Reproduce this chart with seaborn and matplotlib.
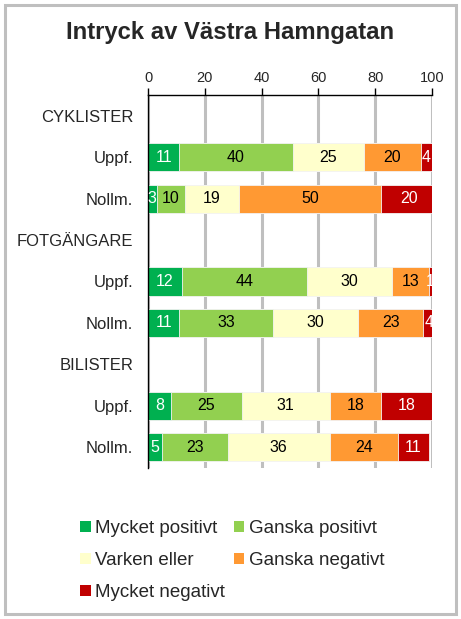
import matplotlib
matplotlib.use("Agg")
import matplotlib.pyplot as plt
import seaborn as sns
import pandas as pd
import numpy as np
from matplotlib.patches import Rectangle, Patch

# ---- data ----
row_keys = ["CYK", "CYK_U", "CYK_N", "FOT", "FOT_U", "FOT_N", "BIL", "BIL_U", "BIL_N"]
row_labels = ["CYKLISTER", "Uppf.", "Nollm.", "FOTGÄNGARE", "Uppf.", "Nollm.",
              "BILISTER", "Uppf.", "Nollm."]
bar_rows = ["CYK_U", "CYK_N", "FOT_U", "FOT_N", "BIL_U", "BIL_N"]
series = ["Mycket positivt", "Ganska positivt", "Varken eller",
          "Ganska negativt", "Mycket negativt"]
mycket_positivt = [11, 3, 12, 11, 8, 5]
ganska_positivt = [40, 10, 44, 33, 25, 23]
varken_eller = [25, 19, 30, 30, 31, 36]
ganska_negativt = [20, 50, 13, 23, 18, 24]
mycket_negativt = [4, 20, 1, 4, 18, 11]
x_ticks = [0, 20, 40, 60, 80, 100]

colors = ["#00B050", "#92D050", "#FFFFCC", "#FF9933", "#C00000"]
text_colors = ["white", "black", "black", "black", "white"]

values = np.array([mycket_positivt, ganska_positivt, varken_eller,
                   ganska_negativt, mycket_negativt], dtype=float)
cum = np.cumsum(values, axis=0)

sns.set_theme(style="white")
plt.rcParams["font.family"] = ["Liberation Sans", "DejaVu Sans"]

fig = plt.figure(figsize=(4.61, 6.19), dpi=100)
ax = fig.add_axes([148 / 461, 1 - 468 / 619, 284 / 461, 373 / 619])

# gridlines behind bars
for t in x_ticks:
    ax.axvline(t, color="#BFBFBF", lw=2.2, zorder=0)

# stacked bars by overlaying cumulative totals (largest first)
for i in range(len(series) - 1, -1, -1):
    df = pd.DataFrame({"row": bar_rows, "value": cum[i]})
    sns.barplot(data=df, x="value", y="row", order=row_keys, orient="h",
                color=colors[i], saturation=1, width=0.68,
                edgecolor="#F4F4F4", linewidth=0.6, ax=ax, zorder=2)

# segment labels
ypos = {k: j for j, k in enumerate(row_keys)}
for i in range(len(series)):
    for r, row in enumerate(bar_rows):
        v = values[i, r]
        center = cum[i, r] - v / 2
        ax.text(center, ypos[row], f"{int(v)}", ha="center", va="center",
                fontsize=11.5, color=text_colors[i], zorder=3)

ax.set_xlim(0, 100)
ax.set_ylim(len(row_keys) - 0.5, -0.5)
ax.xaxis.tick_top()
ax.set_xticks(x_ticks)
ax.set_xticklabels([str(t) for t in x_ticks], fontsize=10.5)
ax.tick_params(axis="x", direction="out", length=5, width=1, color="black",
               pad=2, top=True, bottom=False)
ax.set_yticks(range(len(row_keys)))
ax.set_yticklabels(row_labels, fontsize=12)
ax.tick_params(axis="y", length=0, pad=10.8)
ax.set_xlabel("")
ax.set_ylabel("")
for s in ["right", "bottom"]:
    ax.spines[s].set_visible(False)
for s in ["top", "left"]:
    ax.spines[s].set_visible(True)
    ax.spines[s].set_color("black")
    ax.spines[s].set_linewidth(1)

fig.text(0.5, 1 - 32 / 619, "Intryck av Västra Hamngatan", ha="center",
         va="center", fontsize=17.2, fontweight="bold")

# legend: column-first order
order = [0, 2, 4, 1, 3]
handles = [Patch(facecolor=colors[i], edgecolor="none") for i in order]
labels = [series[i] for i in order]
fig.legend(handles, labels, ncol=2, loc="upper left",
           bbox_to_anchor=(80 / 461, 1 - 520 / 619), frameon=False,
           fontsize=13.5, handlelength=0.57, handleheight=0.57,
           handletextpad=0.25, columnspacing=0.45, labelspacing=0.8,
           borderaxespad=0, borderpad=0)

fig.patches.append(Rectangle((5 / 461, 5 / 619), 451 / 461, 609 / 619,
                             transform=fig.transFigure, fill=False,
                             edgecolor="#BFBFBF", lw=2.2))

fig.savefig("out.png", dpi=100)
